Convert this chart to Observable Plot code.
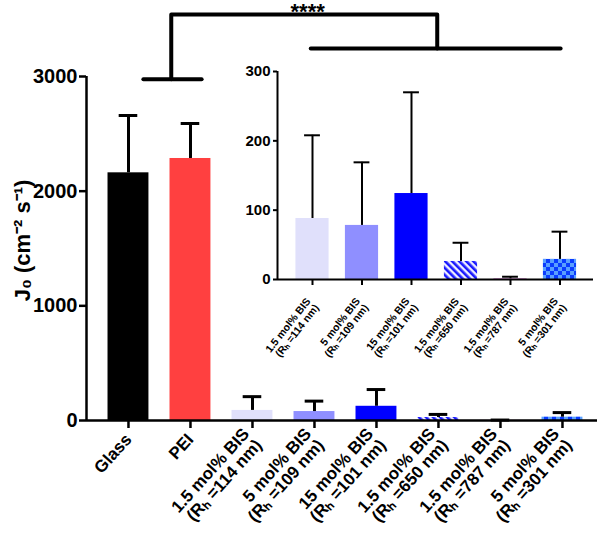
<!DOCTYPE html>
<html><head><meta charset="utf-8">
<script src="https://cdn.jsdelivr.net/npm/d3@7"></script>
<script src="https://cdn.jsdelivr.net/npm/@observablehq/plot@0.6"></script>
<style>
body{margin:0;background:#fff;}
#wrap{position:relative;width:607px;height:542px;overflow:hidden;}
#inset{position:absolute;left:230px;top:55px;}
</style></head><body>
<svg width="0" height="0" style="position:absolute">
<defs>
<pattern id="stripes" patternUnits="userSpaceOnUse" width="5" height="5" patternTransform="rotate(-45)">
<rect width="5" height="5" fill="#eeeeff"/><rect width="2.6" height="5" fill="#1a1aff"/>
</pattern>
<pattern id="checks" patternUnits="userSpaceOnUse" width="8" height="8">
<rect width="8" height="8" fill="#5aa0ff"/><rect width="4" height="4" fill="#0a3cff"/><rect x="4" y="4" width="4" height="4" fill="#0a3cff"/>
</pattern></defs></svg>
<div id="wrap"><div id="main"></div><div id="inset"></div></div>
<script>
const categories = ["Glass","PEI","1.5 mol% BIS\n(Rₕ =114 nm)","5 mol% BIS\n(Rₕ =109 nm)","15 mol% BIS\n(Rₕ =101 nm)","1.5 mol% BIS\n(Rₕ =650 nm)","1.5 mol% BIS\n(Rₕ =787 nm)","5 mol% BIS\n(Rₕ =301 nm)"];
const means = [2160, 2285, 88, 78, 124, 26, 1, 29];
const errorTops = [2660, 2590, 208, 169, 270, 53, 4, 69];
const fills = ["#000000","#ff4040","#e0e0fb","#8f8fff","#0000ff","url(#stripes)","#cc77cc","url(#checks)"];
const mainTicks = [0, 1000, 2000, 3000];
const insetTicks = [0, 100, 200, 300];
const yLabel = "J₀ (cm⁻² s⁻¹)";
const bracketPts = [
  {g:0,x:0.24,y:2975},{g:0,x:1.18,y:2975},
  {g:1,x:0.69,y:2975},{g:1,x:0.69,y:3541},{g:1,x:4.98,y:3541},{g:1,x:4.98,y:3244},
  {g:2,x:2.94,y:3244},{g:2,x:6.97,y:3244}
];
const stars = [{x:2.89, y:3639, label:"****"}];

const idx = d3.range(categories.length);
const rows = idx.map(i => ({i, mean: means[i], top: errorTops[i], fill: fills[i]}));
const font = "'Liberation Sans', Arial, sans-serif";
const fmt = d3.format("d");

const xMin = -0.677, xMax = 7.565;
const main = Plot.plot({
  width: 607, height: 542,
  marginLeft: 86, marginRight: 10, marginTop: 76, marginBottom: 122,
  x: {domain: [xMin, xMax]},
  y: {domain: [0, 3000]},
  color: {type: "identity"},
  style: {fontFamily: font, fontWeight: "bold", background: "transparent", color: "#000", overflow: "visible"},
  marks: [
    Plot.rect(rows, {x1: d => d.i - 0.33, x2: d => d.i + 0.33, y1: 0, y2: "mean", fill: "fill"}),
    Plot.ruleX(rows, {x: "i", y1: "mean", y2: "top", strokeWidth: 3}),
    Plot.ruleY(rows, {y: "top", x1: d => d.i - 0.15, x2: d => d.i + 0.15, strokeWidth: 3}),
    Plot.ruleY([0], {strokeWidth: 2.5}),
    Plot.ruleX([xMin], {y1: 0, y2: 3000, strokeWidth: 2.5}),
    Plot.axisY({ticks: mainTicks, tickFormat: fmt, tickSize: 7, tickPadding: 2, fontSize: 20, strokeWidth: 2.5, label: null}),
    Plot.axisX({ticks: idx, tickFormat: i => categories[i], tickRotate: -48, tickSize: 8, tickPadding: 8, fontSize: 17, strokeWidth: 2.5, label: null, textAnchor: "end", lineAnchor: "middle"}),
    Plot.text([yLabel], {frameAnchor: "left", textAnchor: "middle", rotate: -90, dx: -64, dy: -8, fontSize: 22}),
    Plot.line(bracketPts, {x: "x", y: "y", z: "g", strokeWidth: 4, curve: "linear"}),
    Plot.text(stars, {x: "x", y: "y", text: "label", fontSize: 22, lineAnchor: "top"})
  ]
});
document.getElementById("main").append(main);

const insetRows = rows.slice(2).map((d, k) => ({...d, k}));
const ixMin = -0.707, ixMax = 5.677;
const inset = Plot.plot({
  width: 370, height: 320,
  marginLeft: 47, marginRight: 7, marginTop: 16, marginBottom: 96,
  x: {domain: [ixMin, ixMax]},
  y: {domain: [0, 300]},
  color: {type: "identity"},
  style: {fontFamily: font, fontWeight: "bold", background: "transparent", color: "#000", overflow: "visible"},
  marks: [
    Plot.rect(insetRows, {x1: d => d.k - 0.335, x2: d => d.k + 0.335, y1: 0, y2: "mean", fill: "fill"}),
    Plot.ruleX(insetRows, {x: "k", y1: "mean", y2: "top", strokeWidth: 2}),
    Plot.ruleY(insetRows, {y: "top", x1: d => d.k - 0.16, x2: d => d.k + 0.16, strokeWidth: 2}),
    Plot.ruleY([0], {strokeWidth: 2}),
    Plot.ruleX([ixMin], {y1: 0, y2: 300, strokeWidth: 2}),
    Plot.axisY({ticks: insetTicks, tickSize: 4, tickPadding: 3, fontSize: 15, strokeWidth: 2, label: null}),
    Plot.axisX({ticks: d3.range(6), tickFormat: k => categories[k + 2], tickRotate: -52, tickSize: 6, tickPadding: 17, fontSize: 10.5, strokeWidth: 2, label: null, textAnchor: "end", lineAnchor: "middle"})
  ]
});
document.getElementById("inset").append(inset);
</script>
</body></html>
